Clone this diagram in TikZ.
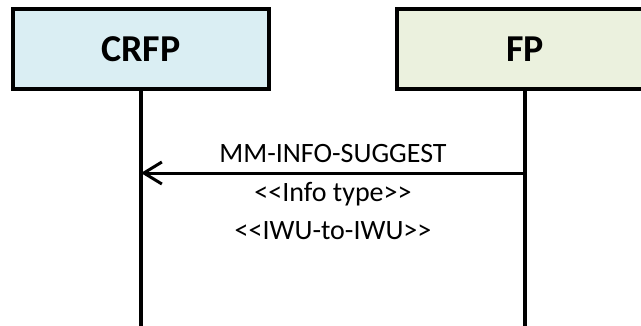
\documentclass[tikz,border=0pt]{standalone}
\usepackage{fontspec}
\setmainfont{Carlito}
\usetikzlibrary{arrows.meta}
\definecolor{crfpfill}{HTML}{DAEEF3}
\definecolor{fpfill}{HTML}{EBF1DE}

\begin{document}
\begin{tikzpicture}[x=1pt,y=-1pt,
    entity/.style={draw,line width=4pt,minimum width=256pt,minimum height=80pt,font=\fontsize{38}{40}\selectfont\bfseries},
    lifeline/.style={line width=3.5pt},
    msg/.style={line width=3pt,-{Straight Barb[length=18pt,width=22pt,line width=3pt]}},
    msglabel/.style={font=\fontsize{28}{30}\selectfont,inner sep=0pt}]
        \clip (0,0) rectangle (641,325);
        \node[entity,fill=crfpfill] (crfp) at (141,49) {CRFP};
        \node[entity,fill=fpfill] (fp) at (525,49) {FP};
        \coordinate (crfpend) at (141,330);
        \coordinate (fpend) at (525,330);
        \draw[lifeline] (crfp.south) -- (crfpend);
        \draw[lifeline] (fp.south) -- (fpend);
        \coordinate (fpmsg) at (525,173);
        \coordinate (crfpmsg) at (141,173);
        \draw[msg] (fpmsg) -- (crfpmsg);
        \node[msglabel] (suggest) at (333,154) {MM-INFO-SUGGEST};
        \node[msglabel] (infotype) at (333,194) {<{}<Info type>{}>};
        \node[msglabel] (iwu) at (333,231) {<{}<IWU-to-IWU>{}>};
    \end{tikzpicture}
\end{document}
